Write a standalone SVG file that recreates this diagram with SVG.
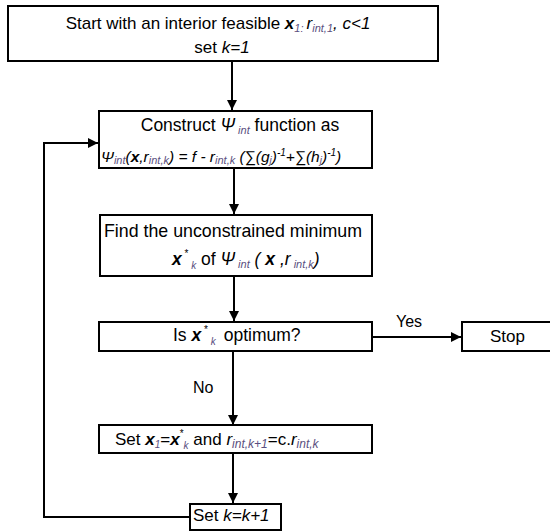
<svg xmlns="http://www.w3.org/2000/svg" width="550" height="532" viewBox="0 0 550 532">
  <defs>
    <marker id="arrow" viewBox="0 0 10 10" refX="10" refY="5" markerWidth="10" markerHeight="10" markerUnits="userSpaceOnUse" orient="auto">
      <path d="M0,0 L10,5 L0,10 z" fill="#000"/>
    </marker>
    <style>
      .box { fill: #fff; stroke: #000; stroke-width: 2; }
      .t { font-family: "Liberation Sans", Arial, sans-serif; fill: #000; }
      .sub { fill: #5a4f80; font-style: italic; }
      .it { font-style: italic; }
      .bi { font-style: italic; font-weight: bold; }
      .edge { fill: none; stroke: #000; stroke-width: 2; }
      .lbl { font-family: "Liberation Sans", Arial, sans-serif; font-size: 16px; fill: #000; }
    </style>
  </defs>

  <!-- connectors -->
  <g id="connectors">
    <line class="edge" x1="232" y1="62" x2="232" y2="110" marker-end="url(#arrow)"/>
    <line class="edge" x1="234" y1="169" x2="234" y2="214" marker-end="url(#arrow)"/>
    <line class="edge" x1="234" y1="277" x2="234" y2="321" marker-end="url(#arrow)"/>
    <line class="edge" x1="373" y1="337" x2="461" y2="337" marker-end="url(#arrow)"/>
    <line class="edge" x1="233" y1="352" x2="233" y2="425" marker-end="url(#arrow)"/>
    <line class="edge" x1="233" y1="454" x2="233" y2="503" marker-end="url(#arrow)"/>
    <polyline class="edge" points="190,517 44,517 44,143 98,143" marker-end="url(#arrow)"/>
    <text class="lbl" x="396" y="327">Yes</text>
    <text class="lbl" x="193" y="393">No</text>
  </g>

  <!-- start -->
  <g id="start">
    <rect class="box" x="8" y="6" width="430" height="55"/>
    <text class="t" x="218" y="29" font-size="17" text-anchor="middle">Start with an interior feasible <tspan class="bi">x</tspan><tspan class="sub" font-size="11" dy="3">1: </tspan><tspan class="it" dy="-3">r</tspan><tspan class="sub" font-size="11" dy="3">int,1</tspan><tspan class="it" dy="-3">, c&lt;1</tspan></text>
    <text class="t" x="222" y="53" font-size="17" text-anchor="middle">set <tspan class="it">k=1</tspan></text>
  </g>

  <!-- construct -->
  <g id="construct">
    <rect class="box" x="99" y="111" width="273" height="57"/>
    <text class="t" x="240" y="131" font-size="17.5" text-anchor="middle">Construct <tspan class="it">Ψ</tspan><tspan class="sub" font-size="11" dy="3"> int</tspan><tspan dy="-3"> function as</tspan></text>
    <text class="t" x="101" y="162" font-size="15.5"><tspan class="it">Ψ</tspan><tspan class="sub" font-size="11" dy="2">int</tspan><tspan class="it" dy="-2">(</tspan><tspan class="bi">x</tspan><tspan class="it">,r</tspan><tspan class="sub" font-size="11" dy="2">int,k</tspan><tspan class="it" dy="-2">) = f - r</tspan><tspan class="sub" font-size="11" dy="2">int,k</tspan><tspan class="it" dy="-2"> (∑(g</tspan><tspan class="sub" font-size="10" dy="2">j</tspan><tspan class="it" dy="-2">)</tspan><tspan class="it" font-size="10" dy="-6">-1</tspan><tspan class="it" dy="6">+∑(h</tspan><tspan class="sub" font-size="10" dy="2">j</tspan><tspan class="it" dy="-2">)</tspan><tspan class="it" font-size="10" dy="-6">-1</tspan><tspan class="it" dy="6">)</tspan></text>
  </g>

  <!-- minimize -->
  <g id="minimize">
    <rect class="box" x="100" y="215" width="272" height="61"/>
    <text class="t" x="104" y="237" font-size="17.8">Find the unconstrained minimum</text>
    <text class="t" x="172" y="265" font-size="17.5"><tspan class="bi">x</tspan><tspan font-size="10" dy="-8"> *</tspan><tspan class="sub" font-size="10" dy="12"> k</tspan><tspan dy="-4">  of </tspan><tspan class="it">Ψ</tspan><tspan class="sub" font-size="11" dy="3"> int</tspan><tspan class="it" dy="-3"> ( </tspan><tspan class="bi">x</tspan><tspan class="it"> ,r</tspan><tspan class="sub" font-size="11" dy="3"> int,k</tspan><tspan class="it" dy="-3">)</tspan></text>
  </g>

  <!-- optimum test -->
  <g id="check">
    <rect class="box" x="99" y="322" width="273" height="29"/>
    <text class="t" x="173" y="341" font-size="17.5">Is <tspan class="bi">x</tspan><tspan font-size="10" dy="-8"> *</tspan><tspan class="sub" font-size="10" dy="12"> k</tspan><tspan dy="-4" dx="8">optimum?</tspan></text>
  </g>

  <!-- stop -->
  <g id="stop">
    <rect class="box" x="462" y="322" width="100" height="29"/>
    <text class="t" x="490" y="342" font-size="17">Stop</text>
  </g>

  <!-- update -->
  <g id="update">
    <rect class="box" x="99" y="425" width="273" height="28"/>
    <text class="t" x="115" y="445" font-size="17">Set <tspan class="bi">x</tspan><tspan class="sub" font-size="10" dy="3">1</tspan><tspan dy="-3">=</tspan><tspan class="bi">x</tspan><tspan font-size="10" dy="-8">*</tspan><tspan class="sub" font-size="10" dy="12">k</tspan><tspan dy="-4"> and </tspan><tspan class="it">r</tspan><tspan class="sub" font-size="12" dy="3">int,k+1</tspan><tspan dy="-3">=c.</tspan><tspan class="it">r</tspan><tspan class="sub" font-size="12" dy="3">int,k</tspan></text>
  </g>

  <!-- increment -->
  <g id="increment">
    <rect class="box" x="190" y="504" width="91" height="26"/>
    <text class="t" x="193" y="521" font-size="17">Set <tspan class="it">k=k+1</tspan></text>
  </g>
</svg>
